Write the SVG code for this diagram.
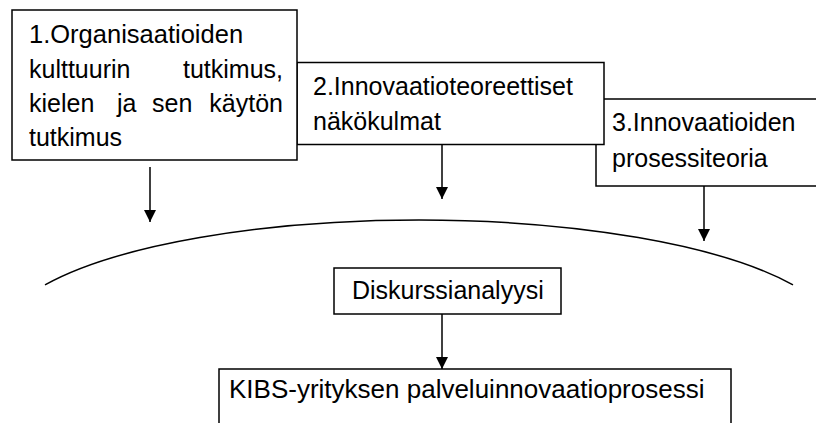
<svg xmlns="http://www.w3.org/2000/svg" width="816" height="423" viewBox="0 0 816 423">
<style>
.box{fill:#fff;stroke:#000;stroke-width:1.5}
.t{font-family:"Liberation Sans",Arial,sans-serif;font-size:25px;fill:#000}
.c{fill:none;stroke:#000;stroke-width:1.5}
</style>
<defs>
<marker id="ah" viewBox="0 0 12 12" refX="12" refY="6" markerWidth="12" markerHeight="12" markerUnits="userSpaceOnUse" orient="auto">
<path d="M0,0 L12,6 L0,12 Z" fill="#000"/>
</marker>
</defs>
<rect width="816" height="423" fill="#fff"/>
<g id="node3">
<rect class="box" x="596" y="99" width="240" height="87"/>
<text class="t" x="612" y="131">3.Innovaatioiden</text>
<text class="t" x="612" y="167">prosessiteoria</text>
</g>
<g id="node2">
<rect class="box" x="297" y="62.5" width="307" height="82"/>
<text class="t" x="313" y="95">2.Innovaatioteoreettiset</text>
<text class="t" x="313" y="130">näkökulmat</text>
</g>
<g id="node1">
<rect class="box" x="12" y="10" width="285" height="150"/>
<text class="t" x="29" y="43" style="font-size:25.5px">1.Organisaatioiden</text>
<text class="t" y="77.5"><tspan x="29">kulttuurin</tspan><tspan x="283" text-anchor="end">tutkimus,</tspan></text>
<text class="t" y="112"><tspan x="29">kielen</tspan><tspan x="117">ja</tspan><tspan x="152">sen</tspan><tspan x="283" text-anchor="end">käytön</tspan></text>
<text class="t" x="29" y="146">tutkimus</text>
</g>
<g id="arc">
<path class="c" d="M45,284.9 A420,119 0 0 1 793,284.9"/>
</g>
<g id="node4">
<rect class="box" x="334" y="268" width="227" height="46"/>
<text class="t" x="352" y="299">Diskurssianalyysi</text>
</g>
<g id="node5">
<rect class="box" x="219" y="369" width="512" height="80"/>
<text class="t" x="229" y="398" style="font-size:26px">KIBS-yrityksen palveluinnovaatioprosessi</text>
</g>
<g id="connectors">
<line class="c" x1="150" y1="167" x2="150" y2="222" marker-end="url(#ah)"/>
<line class="c" x1="442" y1="144.5" x2="442" y2="199" marker-end="url(#ah)"/>
<line class="c" x1="704" y1="186" x2="704" y2="241" marker-end="url(#ah)"/>
<line class="c" x1="442" y1="314" x2="442" y2="369" marker-end="url(#ah)"/>
</g>
</svg>
